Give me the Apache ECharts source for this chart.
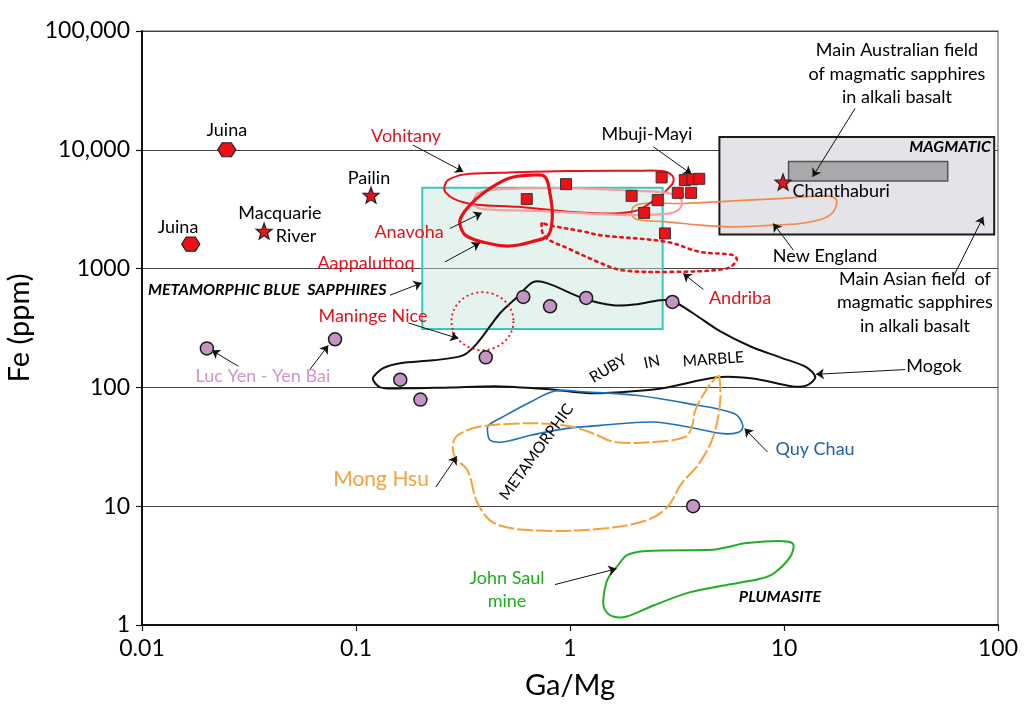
<!DOCTYPE html>
<html><head><meta charset="utf-8">
<script src="https://cdn.jsdelivr.net/npm/echarts@6/dist/echarts.min.js"></script>
<style>html,body{margin:0;padding:0;background:#fff}#c{width:1025px;height:713px}</style>
</head><body><div id="c"></div>
<script>
// ---- tick labels ----
const xTickLabels = {'-2':'0.01','-1':'0.1','0':'1','1':'10','2':'100'};
const yTickLabels = {'0':'1','1':'10','2':'100','3':'1000','4':'10,000','5':'100,000'};

// ---- point data [Ga/Mg, Fe ppm] ----
const juina = [[0.0249,10000],[0.0169,1607]];
const basaltStars = [[0.0372,2065],[0.1175,4150],[9.9,5345]];
const madagascarSquares = [[0.958,5140],[0.628,3845],[1.94,4100],[2.68,5850],[2.57,3770],[2.22,2945],[2.78,1977],[3.44,5560],[3.73,5640],[4.02,5700],[3.19,4345],[3.68,4345]];
const lucYenPoints = [[0.0201,213],[0.0798,254],[0.605,578],[0.807,482],[0.404,179],[0.161,116],[0.2,79],[1.19,566],[3.01,524],[3.76,10]];
const maningeNiceCentre = [[0.39,361]];

// ---- fields (boxes) ----
const blueSapphireBox = [[0.204,310],[2.71,310],[2.71,4790],[0.204,4790]];
const magmaticBox = [[4.99,1940],[96,1940],[96,12800],[4.99,12800]];
const australianBox = [[10.5,5450],[58.2,5450],[58.2,7990],[10.5,7990]];

// ---- outlined fields ----
const vohitany = [[0.259,4875],[0.269,5560],[0.323,6210],[0.48,6400],[0.982,6620],[2.01,6650],[2.68,6620],[2.99,6120],[3.04,5370],[2.88,4730],[2.68,4150],[2.41,3650],[2.08,3105],[1.745,2945],[1.406,2912],[0.982,3005],[0.573,3310],[0.36,3467],[0.29,3820],[0.261,4430]];
const anavoha = [[0.353,3650],[0.372,4315],[0.48,4665],[0.979,4755],[2.01,4515],[2.87,4315],[3.27,3900],[3.33,3420],[3.1,3005],[2.68,2873],[2.01,2818],[1.175,2912],[0.686,3062],[0.401,3148],[0.357,3356]];
const aappaluttoq = [[0.312,2107],[0.306,2557],[0.335,3310],[0.401,4430],[0.515,5740],[0.662,6120],[0.764,5930],[0.806,4295],[0.827,2729],[0.792,1910],[0.686,1711],[0.515,1545],[0.387,1679],[0.329,1875]];
const newEngland = [[1.942,3005],[1.976,3310],[2.2,3535],[3.38,3535],[5.8,3717],[9.92,3900],[12.3,4018],[16.4,4074],[17.6,3767],[17.0,3005],[15.3,2642],[11.9,2399],[8.91,2322],[5.8,2245],[4.05,2322],[2.83,2474],[2.05,2594],[1.942,2818]];
const andriba = [[0.738,2399],[0.764,1849],[0.982,1476],[1.406,1104],[1.745,970],[2.88,938],[5.4,1002],[6.01,1177],[5.8,1297],[4.05,1383],[2.83,1679],[1.38,1910],[1.175,2037],[0.792,2322]];
const mogok = [[0.12,119],[0.134,145],[0.161,160],[0.229,169],[0.316,186],[0.368,235],[0.471,421],[0.565,574],[0.672,768],[0.781,754],[1.15,563],[1.59,492],[2.06,501],[2.63,542],[3.03,531],[3.76,421],[5.02,297],[6.94,222],[9.58,179],[12.7,148],[14.0,122],[12.8,104],[11.0,102],[7.16,119],[4.86,122],[2.84,100],[1.97,92.7],[1.24,89.2],[0.806,96.4],[0.471,102],[0.275,100],[0.166,98.2],[0.13,100]];
const mongHsu = [[4.99,124],[5.02,73],[4.66,38.2],[4.01,22.8],[3.32,15.5],[2.85,9.83],[2.27,7.59],[1.39,6.46],[0.705,6.25],[0.448,7.12],[0.371,10.5],[0.332,20],[0.29,25.9],[0.285,34.7],[0.307,40.8],[0.371,46.4],[0.542,49.5],[0.789,49.5],[1.03,46.4],[1.29,40.8],[1.62,34.7],[2.45,34.7],[3.44,38.2],[3.71,46.4],[3.85,64.1],[4.32,94.5],[4.84,122]];
const quyChau = [[0.416,47.9],[0.484,56.3],[0.654,75.3],[0.852,93.3],[1.197,91.4],[2.03,85.8],[3.57,73],[5.84,60.2],[6.42,47.9],[6.18,42.1],[5.22,40.8],[3.57,46.4],[2.45,51.1],[1.39,47.9],[0.954,45],[0.654,39.5],[0.484,34.7],[0.424,35.8],[0.412,42.1]];
const johnSaul = [[1.65,3.07],[1.84,3.85],[2.28,4.19],[4.67,4.3],[5.4,4.52],[6.7,4.89],[9.92,5.08],[11.06,4.77],[10.67,3.73],[8.91,2.7],[7.73,2.45],[5.21,2.15],[3.64,1.89],[2.45,1.46],[1.84,1.18],[1.59,1.18],[1.46,1.33],[1.43,1.61],[1.48,2.29],[1.57,2.79]];

// ---- annotations [Ga/Mg, Fe, text] ----
const textBlack = [[0.0249,14660,'Juina'],[0.01473,2234,'Juina'],[0.115,5780,'Pailin'],[0.0441,2930,'Macquarie'],[0.0525,1875,'River'],[2.29,13560,'Mbuji-Mayi'],[33.7,43440,'Main Australian field\nof magmatic sapphires\nin alkali basalt'],[18.5,4500,'Chanthaburi'],[15.55,1272,'New England'],[40.9,521,'Main Asian field  of\nmagmatic sapphires\nin alkali basalt'],[50.2,150.6,'Mogok']];
const textRed = [[0.1713,13040,'Vohitany'],[0.177,2027,'Anavoha'],[0.1113,1111,'Aappaluttoq'],[0.12,397,'Maninge Nice'],[6.23,563,'Andriba']];
const textPink = [[0.0367,124,'Luc Yen - Yen Bai']];
const textBlue = [[13.96,30.1,'Quy Chau']];
const textOrange = [[0.131,16.8,'Mong Hsu']];
const textGreen = [[0.5077,1.99,'John Saul\nmine']];
const textBoldItalic = [[0.0385,658,'METAMORPHIC BLUE  SAPPHIRES'],[59.7,10540,'MAGMATIC'],[9.58,1.74,'PLUMASITE']];
const textRotated = [[1.51,144,'RUBY'],[2.41,163.7,'IN'],[4.67,172.5,'MARBLE'],[0.697,28.6,'METAMORPHIC']];
// arrows [fromX, fromY, toX, toY]
const arrows = [[0.1847,10960,0.3173,6527],[0.275,2178,0.387,2945],[0.2606,1139,0.3797,1647],[0.1441,597,0.2028,758],[0.1755,349,0.3006,258],[0.0282,150.6,0.02117,205],[0.0605,139.3,0.0742,226],[2.45,10600,3.7,6242],[21.5,22330,13.6,5925],[11.06,1429,8.91,2399],[61.8,851,85.4,2727],[4.2,667,3.38,909],[36.8,141.3,14.11,128.9],[8.37,28.6,6.54,45.0],[0.236,14.5,0.296,26.3],[0.851,2.19,1.65,2.975]];

const FONT = 'Lato';
const rotations = {RUBY:31, IN:12, MARBLE:4, METAMORPHIC:54};
const STAR = 'path://M50,0 L62.3,33 L97.6,34.6 L70,56.5 L79.4,90.5 L50,71 L20.6,90.5 L30,56.5 L2.4,34.6 L37.7,33 Z';
const HEX = 'path://M0,50 L25,0 L75,0 L100,50 L75,100 L25,100 Z';

function poly(pts, style, smooth, z) {
  return {
    type: 'custom', coordinateSystem: 'cartesian2d', silent: true, z: z, clip: false,
    data: [pts[0]],
    renderItem: function (p, api) {
      return {type: 'polygon', shape: {points: pts.map(function (q) { return api.coord(q); }), smooth: smooth},
        style: Object.assign({fill: 'none'}, style)};
    }
  };
}
function textSeries(arr, style, z, extra) {
  const s = {
    type: 'scatter', symbolSize: 1, itemStyle: {color: 'rgba(0,0,0,0)'}, silent: true, z: z,
    data: arr.map(function (a) { return {value: [a[0], a[1]], name: a[2], label: {rotate: rotations[a[2]] || 0}}; }),
    label: Object.assign({show: true, position: 'inside', formatter: '{b}', fontFamily: FONT, align: 'center', verticalAlign: 'middle', fontSize: 18, color: '#000', lineHeight: 23.5, opacity: 1, textBorderWidth: 0}, style)
  };
  return Object.assign(s, extra || {});
}

const RED = '#ec1016';
const option = {
  animation: false,
  backgroundColor: '#fff',
  grid: {left: 142, right: 27, top: 31, bottom: 88, show: true, borderColor: '#8a8a8a', borderWidth: 1.5, outerBoundsMode: 'none'},
  xAxis: {
    type: 'log', logBase: 10, min: 0.01, max: 100,
    axisLine: {show: true, onZero: false, lineStyle: {color: '#111', width: 2}},
    axisTick: {show: true, length: 6, lineStyle: {color: '#111', width: 1.2}},
    minorTick: {show: false}, splitLine: {show: false},
    axisLabel: {fontFamily: FONT, fontSize: 23, color: '#000', margin: 12,
      formatter: function (v) { return xTickLabels[String(Math.round(Math.log10(v)))] || ''; }},
    name: 'Ga/Mg', nameLocation: 'middle', nameGap: 46,
    nameTextStyle: {fontFamily: FONT, fontSize: 29, color: '#000'}
  },
  yAxis: {
    type: 'log', logBase: 10, min: 1, max: 100000,
    axisLine: {show: true, onZero: false, lineStyle: {color: '#111', width: 2}},
    axisTick: {show: true, length: 6, lineStyle: {color: '#111', width: 1.2}},
    minorTick: {show: false},
    splitLine: {show: true, lineStyle: {color: '#444', width: 1}},
    axisLabel: {fontFamily: FONT, fontSize: 23, color: '#000', margin: 12,
      formatter: function (v) { return yTickLabels[String(Math.round(Math.log10(v)))] || ''; }},
    name: 'Fe (ppm)', nameLocation: 'middle', nameGap: 88,
    nameTextStyle: {fontFamily: FONT, fontSize: 29, color: '#000'}
  },
  series: [
    poly(magmaticBox, {fill: '#e3e3e8', stroke: '#1a1a1a', lineWidth: 2}, 0, 1),
    poly(australianBox, {fill: '#a9a9ab', stroke: '#555', lineWidth: 1.5}, 0, 2),
    poly(blueSapphireBox, {fill: 'rgba(197,229,220,0.45)', stroke: '#3cc4bd', lineWidth: 2}, 0, 2),
    poly(newEngland, {stroke: '#f4864e', lineWidth: 1.6}, 0.35, 3),
    poly(vohitany, {stroke: RED, lineWidth: 2}, 0.35, 3),
    poly(anavoha, {stroke: '#f4a0a4', lineWidth: 2.2}, 0.35, 3),
    poly(aappaluttoq, {stroke: RED, lineWidth: 3.2}, 0.35, 3),
    poly(andriba, {stroke: RED, lineWidth: 2.6, lineDash: [2.5, 4.5], lineCap: 'round'}, 0.35, 3),
    poly(mogok, {stroke: '#111', lineWidth: 2}, 0.3, 3),
    poly(quyChau, {stroke: '#1b72bb', lineWidth: 1.6}, 0.35, 3),
    poly(mongHsu, {stroke: '#f7a13a', lineWidth: 2, lineDash: [16, 3]}, 0.35, 3),
    poly(johnSaul, {stroke: '#22ad22', lineWidth: 2}, 0.3, 3),
    {type: 'scatter', silent: true, z: 4, data: maningeNiceCentre, symbol: 'circle', symbolSize: [62, 58],
      itemStyle: {color: 'rgba(0,0,0,0)', borderColor: RED, borderWidth: 1.8, borderType: [2, 3], opacity: 1}},
    {type: 'scatter', silent: true, z: 5, data: lucYenPoints, symbol: 'circle', symbolSize: 13,
      itemStyle: {color: '#c494c4', borderColor: '#1a1a1a', borderWidth: 1.5, opacity: 1}},
    {type: 'scatter', silent: true, z: 5, data: madagascarSquares, symbol: 'rect', symbolSize: 11,
      itemStyle: {color: '#ee1016', borderColor: '#333', borderWidth: 1, opacity: 1}},
    {type: 'scatter', silent: true, z: 5, data: juina, symbol: HEX, symbolSize: [18, 14], symbolKeepAspect: false,
      itemStyle: {color: '#ee1016', borderColor: '#222', borderWidth: 1.2, opacity: 1}},
    {type: 'scatter', silent: true, z: 5, data: basaltStars, symbol: STAR, symbolSize: 16,
      itemStyle: {color: '#ee1016', borderColor: '#222', borderWidth: 1.2, opacity: 1}},
    textSeries(textBlack, {}, 6, {
      markLine: {silent: true, symbol: ['none', 'arrow'], symbolSize: 8, label: {show: false},
        lineStyle: {color: '#111', width: 1, type: 'solid', opacity: 1}, emphasis: {disabled: true},
        data: arrows.map(function (a) { return [{coord: [a[0], a[1]]}, {coord: [a[2], a[3]]}]; })}
    }),
    textSeries(textRed, {color: '#e8101a'}, 6),
    textSeries(textPink, {color: '#cf96cc'}, 6),
    textSeries(textBlue, {color: '#1d60ad'}, 6),
    textSeries(textOrange, {color: '#f7a13a', fontSize: 21}, 6),
    textSeries(textGreen, {color: '#1fad1f'}, 6),
    textSeries(textBoldItalic, {fontSize: 16, fontWeight: 'bold', fontStyle: 'italic'}, 6),
    textSeries(textRotated, {fontSize: 15.5}, 6)
  ]
};
const chart = echarts.init(document.getElementById('c'));
chart.setOption(option);
</script>
</body></html>
